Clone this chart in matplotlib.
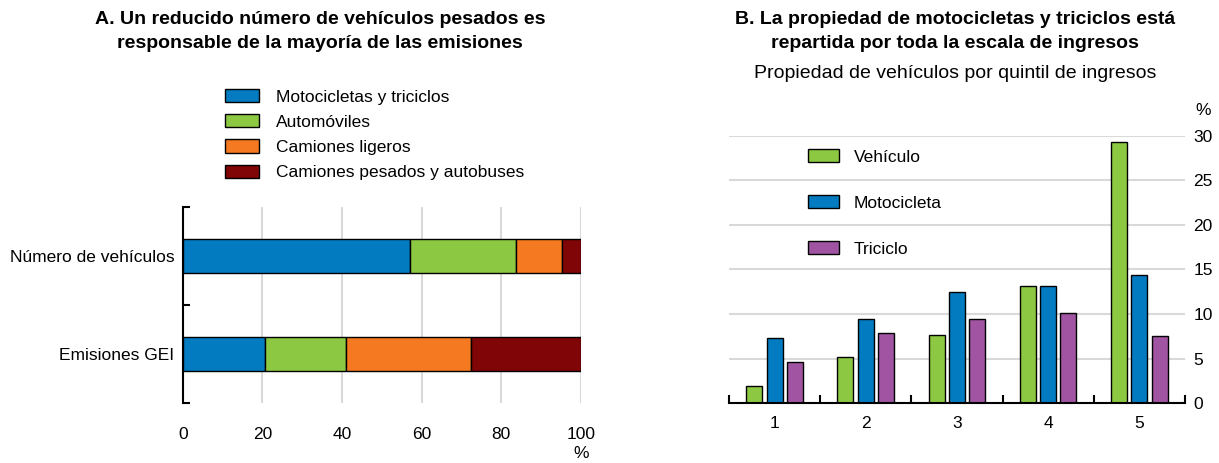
import matplotlib
matplotlib.use("Agg")
from matplotlib import pyplot as plt
import numpy as np

plt.rcParams["font.family"] = ["Liberation Sans", "DejaVu Sans"]

# Panel A data
rows_a = ["Número de vehículos", "Emisiones GEI"]
series_a = ["Motocicletas y triciclos", "Automóviles", "Camiones ligeros", "Camiones pesados y autobuses"]
moto_tri = [57.0, 20.6]
autos = [26.7, 20.4]
cam_lig = [11.5, 31.5]
cam_pes = [4.8, 27.5]
colors_a = ["#037BC1", "#8CC841", "#F47920", "#7F0506"]

# Panel B data
quintiles = ["1", "2", "3", "4", "5"]
vehiculo = [1.9, 5.15, 7.7, 13.1, 29.3]
motocicleta = [7.3, 9.4, 12.5, 13.2, 14.4]
triciclo = [4.6, 7.85, 9.5, 10.1, 7.5]
series_b = ["Vehículo", "Motocicleta", "Triciclo"]
colors_b = ["#8CC841", "#037BC1", "#A154A1"]

FS = 12.5
FT = 14

fig = plt.figure(figsize=(12.19, 4.63), dpi=100)

# ---- Panel A ----
ax1 = fig.add_axes([0.150, 0.1296, 0.3265, 0.4233])
ypos = np.arange(len(rows_a))
left = np.zeros(len(rows_a))
for vals, lab, col in zip([moto_tri, autos, cam_lig, cam_pes], series_a, colors_a):
    ax1.barh(ypos, vals, left=left, height=0.34, color=col, edgecolor="black",
             linewidth=1, label=lab, zorder=3)
    left += np.array(vals)
ax1.set_xlim(0, 100)
ax1.set_ylim(1.5, -0.5)
ax1.set_yticks(ypos)
ax1.set_yticklabels(rows_a, fontsize=FS)
ax1.set_yticks([-0.5, 0.5, 1.5], minor=True)
ax1.tick_params(axis="y", which="major", length=0, pad=6)
ax1.tick_params(axis="y", which="minor", direction="in", length=5, width=1.5)
ax1.set_xticks([0, 20, 40, 60, 80, 100])
ax1.tick_params(axis="x", length=0, labelsize=FS, pad=17)
ax1.grid(axis="x", color="#d9d9d9", linewidth=1.5, zorder=0)
for s in ["top", "right", "bottom"]:
    ax1.spines[s].set_visible(False)
ax1.spines["left"].set_linewidth(1.5)
fig.text(581 / 1219, 1 - 453 / 463, "%", ha="center", va="center", fontsize=FS)
fig.text(320 / 1219, 1 - 20 / 463, "A. Un reducido número de vehículos pesados es",
         ha="center", va="center", fontsize=FT, fontweight="bold")
fig.text(320 / 1219, 1 - 44 / 463, "responsable de la mayoría de las emisiones",
         ha="center", va="center", fontsize=FT, fontweight="bold")
fig.legend(*ax1.get_legend_handles_labels(), loc="upper left",
           bbox_to_anchor=(218 / 1219, 1 - 82 / 463), frameon=False, fontsize=FS,
           handlelength=1.95, handleheight=0.8, labelspacing=0.55, handletextpad=1.0,
           borderaxespad=0)

# ---- Panel B ----
ax2 = fig.add_axes([0.598, 0.129, 0.374, 0.578])
x = np.arange(len(quintiles))
off = 0.223
w = 0.176
for i, (vals, lab, col) in enumerate(zip([vehiculo, motocicleta, triciclo], series_b, colors_b)):
    ax2.bar(x + (i - 1) * off, vals, width=w, color=col, edgecolor="black",
            linewidth=1, label=lab, zorder=3)
ax2.set_xlim(-0.5, 4.5)
ax2.set_ylim(0, 30)
ax2.set_xticks(x)
ax2.set_xticklabels(quintiles, fontsize=FS)
ax2.set_xticks(np.arange(-0.5, 5, 1), minor=True)
ax2.tick_params(axis="x", which="major", length=0, pad=9)
ax2.tick_params(axis="x", which="minor", direction="in", length=6, width=1.5)
ax2.yaxis.tick_right()
ax2.set_yticks([0, 5, 10, 15, 20, 25, 30])
ax2.tick_params(axis="y", length=0, labelsize=FS, pad=6)
ax2.grid(axis="y", color="#d9d9d9", linewidth=1.5, zorder=0)
for s in ["top", "right", "left"]:
    ax2.spines[s].set_visible(False)
ax2.spines["bottom"].set_linewidth(1.5)
ax2.spines["bottom"].set_zorder(4)
ax2.legend(loc="upper left", bbox_to_anchor=(801 / 1219, 1 - 142 / 463),
           bbox_transform=fig.transFigure, frameon=False, fontsize=FS,
           handlelength=1.8, handleheight=0.8, labelspacing=1.75, handletextpad=0.85,
           borderaxespad=0)
fig.text(1203 / 1219, 1 - 110 / 463, "%", ha="center", va="center", fontsize=FS)
fig.text(955 / 1219, 1 - 20 / 463, "B. La propiedad de motocicletas y triciclos está",
         ha="center", va="center", fontsize=FT, fontweight="bold")
fig.text(955 / 1219, 1 - 44 / 463, "repartida por toda la escala de ingresos",
         ha="center", va="center", fontsize=FT, fontweight="bold")
fig.text(955 / 1219, 1 - 73 / 463, "Propiedad de vehículos por quintil de ingresos",
         ha="center", va="center", fontsize=FT)

fig.savefig("out.png", dpi=100)
